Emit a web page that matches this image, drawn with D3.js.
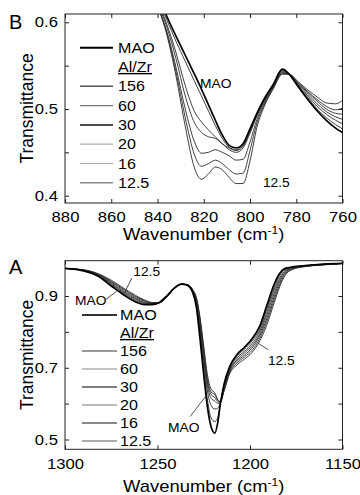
<!DOCTYPE html>
<html>
<head>
<meta charset="utf-8">
<script src="https://cdn.jsdelivr.net/npm/d3@7"></script>
<style>
  body { margin: 0; background: #fff; }
  text { font-family: "Liberation Sans", Arial, Helvetica, sans-serif; fill: #000; }
</style>
</head>
<body>
<script>
// ---------- data ----------
const seriesNames = ["MAO", "156", "60", "30", "20", "16", "12.5"];

// panel B (880-760 cm-1)
const wnB = [846, 840, 836, 832, 828, 824, 821, 818, 815, 812, 809, 806, 803, 800, 797, 794, 790, 786, 783, 779, 775, 771, 767, 763, 760];
const bMAO = [0.675, 0.632, 0.607, 0.584, 0.562, 0.540, 0.523, 0.505, 0.487, 0.470, 0.458, 0.455, 0.460, 0.477, 0.495, 0.511, 0.528, 0.546, 0.540, 0.525, 0.511, 0.498, 0.487, 0.478, 0.473];
const b156 = [0.672, 0.628, 0.603, 0.578, 0.555, 0.532, 0.515, 0.498, 0.481, 0.466, 0.456, 0.453, 0.458, 0.475, 0.494, 0.510, 0.527, 0.545, 0.540, 0.526, 0.513, 0.500, 0.490, 0.482, 0.477];
const b60  = [0.670, 0.625, 0.598, 0.565, 0.527, 0.497, 0.485, 0.476, 0.468, 0.460, 0.455, 0.452, 0.457, 0.474, 0.493, 0.509, 0.527, 0.544, 0.540, 0.527, 0.515, 0.503, 0.494, 0.487, 0.483];
const b30  = [0.668, 0.622, 0.595, 0.558, 0.515, 0.484, 0.473, 0.468, 0.466, 0.460, 0.453, 0.450, 0.455, 0.472, 0.492, 0.508, 0.526, 0.543, 0.540, 0.528, 0.517, 0.506, 0.497, 0.491, 0.488];
const b20  = [0.668, 0.620, 0.590, 0.548, 0.500, 0.462, 0.449, 0.450, 0.453, 0.450, 0.446, 0.441, 0.442, 0.462, 0.488, 0.506, 0.525, 0.542, 0.540, 0.529, 0.519, 0.509, 0.500, 0.495, 0.494];
const b16  = [0.668, 0.620, 0.588, 0.543, 0.490, 0.447, 0.434, 0.437, 0.441, 0.437, 0.430, 0.425, 0.426, 0.452, 0.484, 0.504, 0.524, 0.541, 0.540, 0.530, 0.520, 0.511, 0.503, 0.499, 0.501];
const b125 = [0.668, 0.620, 0.586, 0.538, 0.480, 0.432, 0.419, 0.425, 0.433, 0.430, 0.421, 0.414, 0.414, 0.440, 0.479, 0.502, 0.523, 0.540, 0.540, 0.531, 0.522, 0.514, 0.507, 0.506, 0.510];

// panel A (1300-1150 cm-1)
const wnA = [1300, 1290, 1282, 1275, 1268, 1262, 1257, 1253, 1249, 1245, 1241, 1237, 1234, 1231, 1229, 1227, 1225, 1223, 1221, 1219, 1217.5, 1216, 1214, 1211, 1207, 1203, 1199, 1195, 1191, 1187, 1184, 1181, 1177, 1170, 1160, 1150];
const aMAO = [0.977, 0.970, 0.955, 0.928, 0.902, 0.884, 0.876, 0.876, 0.882, 0.900, 0.922, 0.933, 0.930, 0.910, 0.870, 0.780, 0.680, 0.590, 0.535, 0.518, 0.545, 0.600, 0.655, 0.703, 0.737, 0.757, 0.780, 0.813, 0.872, 0.932, 0.963, 0.977, 0.981, 0.985, 0.989, 0.991];
const a156 = [0.977, 0.971, 0.956, 0.931, 0.905, 0.887, 0.878, 0.877, 0.882, 0.899, 0.922, 0.933, 0.930, 0.912, 0.875, 0.800, 0.700, 0.610, 0.560, 0.550, 0.560, 0.600, 0.652, 0.700, 0.732, 0.752, 0.774, 0.806, 0.863, 0.923, 0.957, 0.974, 0.980, 0.985, 0.989, 0.991];
const a60  = [0.977, 0.971, 0.957, 0.934, 0.908, 0.890, 0.880, 0.878, 0.882, 0.899, 0.921, 0.933, 0.931, 0.913, 0.880, 0.810, 0.720, 0.635, 0.595, 0.585, 0.587, 0.603, 0.648, 0.696, 0.727, 0.746, 0.767, 0.799, 0.854, 0.915, 0.950, 0.971, 0.979, 0.984, 0.988, 0.991];
const a30  = [0.977, 0.972, 0.959, 0.936, 0.911, 0.893, 0.882, 0.879, 0.882, 0.898, 0.921, 0.933, 0.931, 0.914, 0.885, 0.820, 0.730, 0.650, 0.615, 0.607, 0.601, 0.603, 0.645, 0.693, 0.722, 0.741, 0.761, 0.792, 0.845, 0.906, 0.944, 0.968, 0.978, 0.984, 0.988, 0.991];
const a20  = [0.977, 0.972, 0.960, 0.939, 0.915, 0.896, 0.885, 0.880, 0.881, 0.898, 0.920, 0.933, 0.932, 0.916, 0.890, 0.830, 0.740, 0.660, 0.625, 0.617, 0.606, 0.604, 0.642, 0.690, 0.718, 0.735, 0.755, 0.786, 0.836, 0.897, 0.938, 0.964, 0.977, 0.983, 0.988, 0.991];
const a16  = [0.977, 0.973, 0.961, 0.941, 0.918, 0.899, 0.887, 0.881, 0.881, 0.897, 0.920, 0.933, 0.932, 0.917, 0.893, 0.835, 0.750, 0.670, 0.632, 0.625, 0.610, 0.605, 0.638, 0.686, 0.713, 0.730, 0.748, 0.779, 0.827, 0.889, 0.931, 0.961, 0.975, 0.983, 0.987, 0.991];
const a125 = [0.976, 0.973, 0.962, 0.944, 0.921, 0.902, 0.889, 0.882, 0.881, 0.897, 0.920, 0.933, 0.932, 0.918, 0.897, 0.840, 0.760, 0.680, 0.640, 0.630, 0.612, 0.606, 0.635, 0.683, 0.708, 0.724, 0.742, 0.772, 0.818, 0.880, 0.925, 0.958, 0.974, 0.982, 0.987, 0.990];

const seriesB = [bMAO, b156, b60, b30, b20, b16, b125];
const seriesA = [aMAO, a156, a60, a30, a20, a16, a125];

// ticks
const xTicksB = [880, 860, 840, 820, 800, 780, 760];
const yTicksB = [0.4, 0.45, 0.5, 0.55, 0.6];
const yLabelsB = [0.4, 0.5, 0.6];
const xTicksA = [1300, 1250, 1200, 1150];
const yTicksA = [0.5, 0.6, 0.7, 0.8, 0.9];
const yLabelsA = [0.5, 0.7, 0.9];

// annotations: text anchor and pointer (from -> to), all in data units
const notesB = [
  { label: "MAO",  t: [821.6, 0.524] },
  { label: "12.5", t: [794.4, 0.410] }
];
const notesA = [
  { label: "MAO",  t: [1294.6, 0.876], p: [[1278.0, 0.890], [1272.1, 0.913]] },
  { label: "12.5", t: [1263.1, 0.956], p: [[1263.9, 0.950], [1267.9, 0.908]] },
  { label: "MAO",  t: [1244.3, 0.522], p: [[1232.4, 0.564], [1223.4, 0.624]] },
  { label: "12.5", t: [1190.3, 0.708], p: [[1190.1, 0.750], [1195.5, 0.768]] }
];

// ---------- drawing ----------
const W = 360, H = 495, SX = 1.15;
const svg = d3.select("body").append("svg").attr("width", W).attr("height", H);

function stext(g, x, y, s, size, anchor) {
  return g.append("text")
    .attr("transform", `translate(${x},${y}) scale(${SX},1)`)
    .attr("font-size", size)
    .attr("text-anchor", anchor || "start")
    .text(s);
}

function panel(opt) {
  const { x, y, box, id } = opt;
  const g = svg.append("g");

  g.append("clipPath").attr("id", id).append("rect")
    .attr("x", box.l).attr("y", box.t)
    .attr("width", box.r - box.l).attr("height", box.b - box.t);

  // curves (MAO last so it sits on top)
  const line = d3.line()
    .x(d => x(d[0])).y(d => y(d[1]))
    .curve(d3.curveMonotoneX);
  const curves = g.append("g").attr("clip-path", `url(#${id})`);
  opt.series.slice().reverse().forEach((vals, k) => {
    const isMAO = k === opt.series.length - 1;
    curves.append("path")
      .datum(d3.zip(opt.wn, vals))
      .attr("d", line)
      .attr("fill", "none")
      .attr("stroke", isMAO ? "#000" : "#2a2a2a")
      .attr("stroke-width", isMAO ? 1.7 : 0.9);
  });

  // axes, ticks inward on all sides
  const isLab = v => opt.yLabels.some(l => Math.abs(l - v) < 1e-9);
  const axes = [
    [d3.axisBottom(x).tickValues(opt.xTicks).tickFormat(d3.format("d")), `translate(0,${box.b})`, 9],
    [d3.axisTop(x).tickValues(opt.xTicks).tickFormat(""), `translate(0,${box.t})`, 0],
    [d3.axisLeft(y).tickValues(opt.yTicks).tickFormat(d => isLab(d) ? d3.format(".1f")(d) : ""), `translate(${box.l},0)`, 7],
    [d3.axisRight(y).tickValues(opt.yTicks).tickFormat(""), `translate(${box.r},0)`, 0]
  ];
  axes.forEach(([a, t, pad]) => {
    const ag = g.append("g").attr("transform", t)
      .call(a.tickSizeInner(-4).tickSizeOuter(0).tickPadding(pad))
      .attr("font-size", null).attr("font-family", null);
    ag.select(".domain").remove();
    ag.selectAll(".tick line").attr("stroke", "#222");
    ag.selectAll(".tick text").attr("font-size", 14.5).attr("fill", "#000")
      .each(function() {
        const t = d3.select(this);
        const xx = +t.attr("x") || 0;
        t.attr("x", xx / SX).attr("transform", `scale(${SX},1)`);
      });
  });

  g.append("rect")
    .attr("x", box.l).attr("y", box.t)
    .attr("width", box.r - box.l).attr("height", box.b - box.t)
    .attr("fill", "none").attr("stroke", "#222").attr("stroke-width", 1);

  // axis titles
  const xl = stext(g, (box.l + box.r) / 2, opt.xTitleY, "Wavenumber (cm", 16, "middle");
  xl.append("tspan").attr("font-size", 10.5).attr("dy", -6).text("-1");
  xl.append("tspan").attr("dy", 6).text(")");
  g.append("text")
    .attr("transform", `translate(33,${(box.t + box.b) / 2}) rotate(-90)`)
    .attr("text-anchor", "middle").attr("font-size", 17.5)
    .text("Transmittance");
  g.append("text").attr("x", 9).attr("y", opt.letterY)
    .attr("font-size", 20).text(opt.letter);

  // legend
  const lg = opt.legend;
  const rowY = i => lg.y0 + i * lg.step;
  seriesNames.forEach((name, i) => {
    const row = i === 0 ? 0 : i + 1;
    g.append("line")
      .attr("x1", lg.x1).attr("x2", lg.x2)
      .attr("y1", rowY(row)).attr("y2", rowY(row))
      .attr("stroke", lg.colors[i]).attr("stroke-width", lg.widths[i]);
    stext(g, lg.tx, rowY(row) + 5, name, 14);
  });
  stext(g, lg.tx, rowY(1) + 5, "Al/Zr", 14).attr("text-decoration", "underline");

  // annotations
  opt.notes.forEach(n => {
    stext(g, x(n.t[0]), y(n.t[1]), n.label, 12);
    if (n.p) {
      g.append("line")
        .attr("x1", x(n.p[0][0])).attr("y1", y(n.p[0][1]))
        .attr("x2", x(n.p[1][0])).attr("y2", y(n.p[1][1]))
        .attr("stroke", "#222").attr("stroke-width", 0.8);
    }
  });
}

// Panel B
const boxB = { l: 65, r: 342.5, t: 14, b: 203 };
panel({
  id: "clipB", box: boxB, letter: "B", letterY: 28.5, xTitleY: 239.5,
  x: d3.scaleLinear().domain([880, 760]).range([boxB.l, boxB.r]),
  y: d3.scaleLinear().domain([0.4, 0.6]).range([195.7, 22.3]),
  wn: wnB, series: seriesB,
  xTicks: xTicksB, yTicks: yTicksB, yLabels: yLabelsB,
  notes: notesB,
  legend: { x1: 80, x2: 113, tx: 118, y0: 47.7, step: 19.3,
    colors: ["#000", "#555", "#777", "#111", "#aaa", "#aaa", "#888"],
    widths: [2, 1.5, 1.2, 1.5, 1.2, 1.2, 1.5] }
});

// Panel A
const boxA = { l: 65, r: 342.5, t: 260.7, b: 449.3 };
panel({
  id: "clipA", box: boxA, letter: "A", letterY: 273.5, xTitleY: 491.5,
  x: d3.scaleLinear().domain([1300, 1150]).range([boxA.l, boxA.r]),
  y: d3.scaleLinear().domain([0.5, 0.9]).range([439.5, 296]),
  wn: wnA, series: seriesA,
  xTicks: xTicksA, yTicks: yTicksA, yLabels: yLabelsA,
  notes: notesA,
  legend: { x1: 82, x2: 117, tx: 120, y0: 315, step: 18,
    colors: ["#333", "#777", "#888", "#000", "#777", "#888", "#aaa"],
    widths: [2.2, 1.5, 1.2, 1.2, 1.2, 2, 2] }
});
</script>
</body>
</html>
